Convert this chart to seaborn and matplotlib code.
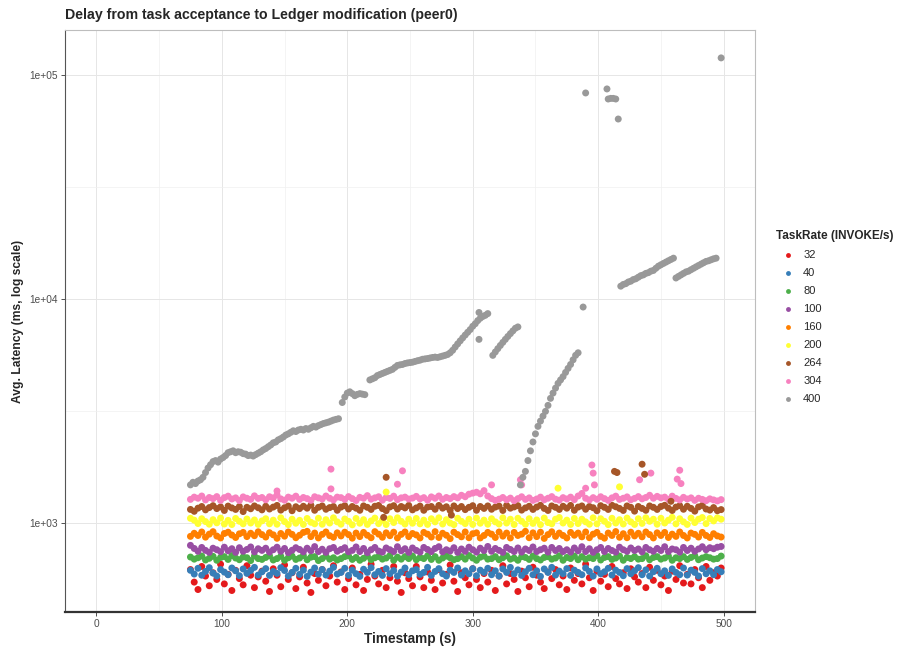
import numpy as np
import pandas as pd
import matplotlib
matplotlib.use('Agg')
import matplotlib.pyplot as plt
import seaborn as sns
from matplotlib.ticker import FixedLocator

# task rates and their ggplot Set1 colours
rates = ['32', '40', '80', '100', '160', '200', '264', '304', '400']
colors = ['#E41A1C', '#377EB8', '#4DAF4A', '#984EA3', '#FF7F00',
          '#FFFF33', '#A65628', '#F781BF', '#999999']

# flat bands, sampled every 3 s from t=75 (latency in ms)
band_start = 75
band_step = 3
lat_32 = [620, 545, 505, 640, 580, 525, 600, 560, 655, 535, 590, 500, 615, 565, 530, 645, 585, 515, 575, 610,
          550, 495, 625, 585, 520, 650, 560, 600, 510, 575, 635, 540, 490, 595, 555, 620, 525, 580, 645, 545,
          605, 505, 565, 630, 530, 590, 500, 560, 655, 580, 535, 615, 515, 570, 640, 550, 490, 600, 565, 525,
          640, 575, 515, 605, 555, 505, 620, 540, 590, 650, 550, 495, 600, 570, 530, 625, 560, 515, 595, 545,
          615, 500, 580, 645, 535, 595, 560, 495, 610, 570, 520, 635, 585, 545, 510, 605, 565, 620, 530, 580,
          505, 630, 555, 595, 535, 655, 570, 500, 610, 550, 590, 520, 640, 565, 535, 600, 510, 625, 575, 545,
          595, 515, 635, 555, 615, 530, 580, 500, 610, 560, 645, 540, 590, 535, 620, 570, 515, 640, 555, 600,
          580, 630]
lat_40 = [615, 592, 628, 585, 608, 632, 598, 580, 620, 604, 588, 630, 612, 582, 624, 596, 614, 634, 586, 606,
          626, 584, 608, 596, 632, 614, 580, 602, 628, 590, 616, 578, 604, 630, 592, 620, 586, 610, 634, 592,
          602, 628, 584, 616, 594, 578, 622, 602, 632, 588, 608, 584, 626, 594, 614, 580, 604, 630, 588, 612,
          620, 590, 602, 634, 584, 608, 626, 594, 580, 616, 602, 630, 586, 612, 594, 626, 582, 616, 602, 628,
          588, 612, 580, 624, 602, 634, 594, 618, 584, 606, 628, 588, 612, 578, 624, 602, 634, 586, 610, 594,
          626, 584, 616, 602, 588, 630, 608, 580, 624, 594, 606, 628, 586, 616, 602, 582, 626, 594, 612, 632,
          588, 618, 580, 606, 628, 594, 612, 584, 624, 602, 588, 630, 586, 616, 602, 580, 626, 594, 612, 588,
          620, 606]
lat_80 = [705, 690, 700, 712, 684, 696, 710, 682, 702, 708, 688, 716, 698, 686, 706, 700, 680, 712, 694, 688,
          702, 714, 684, 694, 710, 682, 700, 712, 688, 698, 716, 686, 704, 708, 680, 694, 712, 690, 700, 684,
          694, 708, 714, 688, 702, 682, 696, 712, 686, 700, 708, 690, 698, 716, 682, 704, 690, 708, 694, 712,
          686, 702, 694, 714, 688, 708, 682, 698, 712, 700, 686, 694, 708, 690, 716, 698, 682, 704, 712, 690,
          694, 708, 686, 700, 714, 690, 698, 682, 708, 702, 688, 712, 694, 684, 702, 708, 690, 698, 714, 682,
          702, 694, 712, 686, 708, 690, 700, 694, 716, 684, 702, 708, 688, 698, 712, 682, 702, 694, 708, 690,
          694, 714, 686, 702, 708, 690, 698, 712, 682, 700, 694, 708, 688, 702, 714, 686, 698, 708, 700, 690,
          694, 712]
lat_100 = [795, 770, 748, 778, 755, 740, 772, 760, 745, 780, 752, 768, 740, 776, 748, 762, 782, 744, 768, 755,
           772, 742, 760, 780, 748, 770, 738, 756, 776, 762, 744, 772, 752, 785, 746, 764, 740, 768, 778, 748,
           762, 776, 744, 755, 782, 746, 770, 738, 760, 778, 750, 742, 774, 760, 746, 784, 752, 768, 740, 774,
           755, 742, 778, 762, 746, 770, 784, 744, 760, 750, 776, 740, 766, 748, 780, 760, 742, 772, 754, 786,
           748, 770, 755, 740, 778, 762, 746, 774, 742, 766, 754, 782, 746, 760, 772, 742, 778, 754, 770, 746,
           760, 742, 774, 752, 784, 746, 768, 740, 760, 778, 746, 770, 754, 742, 780, 760, 748, 774, 754, 766,
           744, 778, 760, 748, 770, 754, 784, 746, 766, 760, 742, 778, 754, 772, 748, 766, 784, 760, 776, 768,
           780, 786]
lat_160 = [872, 900, 880, 912, 865, 892, 915, 875, 858, 898, 910, 884, 862, 895, 908, 870, 900, 878, 914, 888,
           866, 905, 886, 855, 898, 874, 912, 890, 860, 882, 908, 918, 870, 902, 858, 890, 912, 878, 864, 904,
           876, 910, 888, 856, 902, 870, 908, 882, 860, 915, 892, 864, 904, 878, 910, 858, 890, 912, 870, 898,
           885, 858, 908, 892, 866, 915, 862, 900, 882, 852, 910, 888, 868, 912, 860, 896, 904, 858, 880, 908,
           892, 862, 912, 874, 902, 858, 908, 880, 892, 918, 860, 904, 870, 910, 854, 888, 914, 872, 902, 880,
           858, 908, 882, 902, 868, 912, 860, 892, 908, 872, 856, 902, 880, 916, 864, 896, 860, 910, 876, 900,
           868, 912, 888, 858, 904, 880, 908, 862, 892, 872, 912, 880, 858, 902, 890, 866, 908, 880, 862, 896,
           876, 866]
lat_200 = [1050, 1030, 995, 1045, 1015, 988, 1035, 1002, 1052, 990, 1028, 985, 1048, 1018, 992, 1042, 1000, 1032, 986, 1022,
           1045, 992, 1030, 988, 1055, 1015, 984, 1040, 998, 1028, 986, 1048, 1008, 992, 1050, 988, 1035, 1000, 1055, 1012,
           988, 1042, 1018, 982, 1048, 998, 1035, 986, 1022, 1052, 994, 1030, 985, 1045, 1005, 1055, 1018, 990, 1040, 998,
           1048, 992, 1030, 986, 1045, 1012, 1055, 990, 1035, 1000, 984, 1050, 1018, 994, 1040, 986, 1052, 998, 1030, 988,
           1045, 1012, 990, 1055, 1000, 1040, 985, 1050, 1018, 988, 1045, 996, 1032, 984, 1052, 1005, 992, 1040, 1058, 1000,
           1030, 986, 1048, 995, 1040, 1012, 988, 1055, 992, 1045, 1018, 984, 1050, 1000, 1035, 990, 1052, 1012, 986, 1045,
           996, 1055, 1018, 1040, 988, 1050, 1000, 1030, 1060, 992, 1045, 1012, 986, 1052, 1005, 1040, 1058, 994, 1048, 1022,
           1055, 1040]
lat_264 = [1150, 1128, 1165, 1185, 1145, 1172, 1195, 1160, 1180, 1138, 1190, 1168, 1150, 1185, 1125, 1175, 1158, 1192, 1170, 1145,
           1188, 1155, 1178, 1198, 1142, 1170, 1190, 1135, 1182, 1160, 1188, 1165, 1200, 1140, 1175, 1192, 1152, 1172, 1185, 1140,
           1178, 1195, 1155, 1185, 1165, 1140, 1192, 1175, 1150, 1188, 1198, 1160, 1135, 1180, 1195, 1155, 1185, 1168, 1198, 1145,
           1168, 1190, 1140, 1178, 1185, 1152, 1198, 1165, 1182, 1138, 1192, 1160, 1185, 1148, 1175, 1195, 1140, 1185, 1162, 1192,
           1152, 1178, 1190, 1138, 1198, 1165, 1180, 1195, 1142, 1168, 1188, 1150, 1178, 1200, 1162, 1138, 1192, 1175, 1150, 1188,
           1165, 1198, 1140, 1178, 1192, 1152, 1185, 1170, 1135, 1195, 1175, 1150, 1200, 1182, 1162, 1138, 1192, 1175, 1130, 1185,
           1162, 1140, 1192, 1175, 1150, 1185, 1200, 1165, 1138, 1178, 1195, 1152, 1188, 1162, 1130, 1180, 1198, 1155, 1142, 1172,
           1135, 1148]
lat_304 = [1275, 1305, 1290, 1320, 1268, 1300, 1285, 1312, 1262, 1298, 1318, 1280, 1295, 1260, 1308, 1290, 1275, 1322, 1288, 1300,
           1270, 1310, 1295, 1335, 1282, 1265, 1305, 1290, 1318, 1275, 1300, 1285, 1262, 1310, 1295, 1280, 1320, 1290, 1268, 1305,
           1298, 1275, 1312, 1285, 1260, 1302, 1290, 1325, 1278, 1295, 1310, 1265, 1300, 1288, 1318, 1272, 1295, 1305, 1280, 1292,
           1315, 1282, 1298, 1265, 1308, 1290, 1320, 1276, 1300, 1285, 1312, 1295, 1330, 1310, 1345, 1360, 1372, 1350, 1395, 1320,
           1285, 1262, 1278, 1300, 1270, 1292, 1258, 1285, 1310, 1275, 1295, 1262, 1280, 1305, 1270, 1290, 1312, 1278, 1265, 1298,
           1280, 1305, 1272, 1320, 1355, 1290, 1268, 1298, 1276, 1310, 1285, 1262, 1295, 1318, 1275, 1290, 1308, 1270, 1288, 1312,
           1282, 1300, 1330, 1290, 1315, 1295, 1305, 1275, 1318, 1288, 1268, 1302, 1280, 1295, 1262, 1290, 1275, 1258, 1282, 1268,
           1255, 1272]

# stray points above / below the bands
extra_rate = ['304'] * 17 + ['264'] * 8 + ['200'] * 3
extra_t = [144, 187, 187, 240, 244, 315, 338, 339, 390, 395, 396, 397, 433, 442, 463, 465, 466,
           229, 231, 283, 413, 415, 435, 437, 458,
           231, 368, 417]
extra_v = [1390, 1740, 1420, 1490, 1710, 1480, 1560, 1480, 1430, 1815, 1670, 1480, 1560, 1670, 1570, 1720, 1500,
           1060, 1600, 1085, 1700, 1680, 1830, 1650, 1250,
           1375, 1430, 1450]

# rate 400: latency keeps growing
t_400 = [75, 77, 79, 81, 83, 85, 87, 89, 91, 93, 95, 97, 99, 101, 103, 105, 107, 109, 111, 113,
         115, 117, 119, 121, 123, 125, 127, 129, 131, 133, 135, 137, 139, 141, 143, 145, 147, 149, 151, 153,
         155, 157, 159, 161, 163, 165, 167, 169, 171, 173, 175, 177, 179, 181, 183, 185, 187, 189, 191, 193,
         196, 198, 200, 202, 204, 206, 208, 210, 212, 214,
         218, 220, 222, 224, 226, 228, 230, 232, 234, 236, 238, 240, 242, 244, 246, 248, 250, 252, 254, 256,
         258, 260, 262, 264, 266, 268, 270, 272, 274, 276, 278, 280, 282, 284, 286, 288, 290, 292, 294, 296,
         298, 300, 302, 304, 306, 308, 310, 312, 305, 305,
         316, 318, 320, 322, 324, 326, 328, 330, 332, 334, 336,
         338, 340, 342, 344, 346, 348, 350, 352, 354, 356, 358, 360, 362, 364, 366, 368, 370, 372, 374, 376,
         378, 380, 382, 384, 388,
         390, 407, 408, 410, 412, 414, 416, 498,
         418, 420, 422, 424, 426, 428, 430, 432, 434, 436, 438, 440, 442, 444, 446, 448, 450, 452, 454, 456,
         458, 460,
         462, 464, 466, 468, 470, 472, 474, 476, 478, 480, 482, 484, 486, 488, 490, 492, 494]
lat_400 = [1480, 1520, 1500, 1540, 1560, 1600, 1680, 1760, 1820, 1880, 1900, 1870, 1930, 1960, 2000, 2060, 2080, 2100, 2060, 2080,
           2070, 2040, 2030, 2000, 2010, 1990, 2020, 2050, 2080, 2120, 2150, 2190, 2230, 2280, 2300, 2350, 2380, 2420, 2470, 2500,
           2540, 2580, 2560, 2600, 2620, 2600, 2640, 2620, 2660, 2700, 2680, 2720, 2750, 2780, 2800, 2820, 2850, 2880, 2900, 2920,
           3450, 3650, 3800, 3850, 3780, 3700, 3750, 3780, 3760, 3740,
           4350, 4400, 4450, 4550, 4600, 4650, 4700, 4750, 4800, 4850, 4950, 5050, 5080, 5100, 5150, 5180, 5200, 5220, 5260, 5300,
           5330, 5380, 5400, 5420, 5450, 5480, 5500, 5480, 5520, 5560, 5600, 5650, 5750, 5900, 6100, 6300, 6500, 6700, 6900, 7100,
           7300, 7550, 7750, 8000, 8200, 8350, 8450, 8600, 8700, 6600,
           5600, 5800, 6000, 6200, 6400, 6600, 6800, 7000, 7200, 7400, 7500,
           1480, 1600, 1700, 1900, 2100, 2300, 2500, 2700, 2850, 3000, 3150, 3350, 3600, 3800, 4000, 4200, 4350, 4500, 4700, 4900,
           5100, 5350, 5600, 5750, 9200,
           83000, 86500, 78000, 78500, 78500, 78000, 63500, 119000,
           11400, 11600, 11700, 11900, 12000, 12200, 12300, 12500, 12700, 12800, 13000, 13100, 13300, 13400, 13700, 14000, 14200, 14400, 14600, 14800,
           15000, 15200,
           12400, 12600, 12800, 13000, 13200, 13300, 13500, 13700, 13900, 14100, 14300, 14500, 14700, 14800, 14950, 15100, 15200]

bands = {'32': lat_32, '40': lat_40, '80': lat_80, '100': lat_100, '160': lat_160,
         '200': lat_200, '264': lat_264, '304': lat_304}

frames = []
for rate in rates[:-1]:
    vals = bands[rate]
    ts = band_start + band_step * np.arange(len(vals))
    frames.append(pd.DataFrame({'Timestamp': ts, 'Latency': vals, 'TaskRate': rate}))
frames.append(pd.DataFrame({'Timestamp': extra_t, 'Latency': extra_v, 'TaskRate': extra_rate}))
frames.append(pd.DataFrame({'Timestamp': t_400, 'Latency': lat_400, 'TaskRate': '400'}))
df = pd.concat(frames, ignore_index=True)

sns.set_theme(style='white')
plt.rcParams['font.family'] = ['Liberation Sans', 'DejaVu Sans']

fig = plt.figure(figsize=(9.04, 6.46), dpi=100)
ax = fig.add_axes([65 / 904, 34 / 646, 690 / 904, 582 / 646])

sns.scatterplot(data=df, x='Timestamp', y='Latency', hue='TaskRate', hue_order=rates,
                palette=dict(zip(rates, colors)), s=25, linewidth=0, alpha=1, ax=ax)

ax.set_yscale('log')
ax.set_xlim(-25, 525)
ax.set_ylim(10 ** 2.603, 10 ** 5.2)

ax.xaxis.set_major_locator(FixedLocator([0, 100, 200, 300, 400, 500]))
ax.xaxis.set_minor_locator(FixedLocator([50, 150, 250, 350, 450]))
ax.yaxis.set_major_locator(FixedLocator([1e3, 1e4, 1e5]))
ax.yaxis.set_minor_locator(FixedLocator([10 ** 3.5, 10 ** 4.5]))
ax.set_yticklabels(['1e+03', '1e+04', '1e+05'])
ax.yaxis.set_minor_formatter(plt.NullFormatter())

ax.grid(which='major', color='#E6E6E6', linewidth=0.7)
ax.grid(which='minor', color='#F0F0F0', linewidth=0.5)
ax.set_axisbelow(True)
ax.tick_params(which='major', axis='both', length=3, width=0.6, color='#333333',
               labelsize=7.3, labelcolor='#4D4D4D', pad=2, left=True, bottom=True)
ax.tick_params(which='minor', length=0)

for side in ['top', 'right']:
    ax.spines[side].set_color('#BDBDBD')
    ax.spines[side].set_linewidth(0.8)
ax.spines['left'].set_color('#555555')
ax.spines['left'].set_linewidth(0.8)
ax.spines['bottom'].set_color('#333333')
ax.spines['bottom'].set_linewidth(1.6)

ax.set_xlabel('Timestamp (s)', fontsize=9.8, fontweight='bold', labelpad=2)
ax.set_ylabel('Avg. Latency (ms, log scale)', fontsize=8.7, fontweight='bold', labelpad=4)
ax.set_title('Delay from task acceptance to Ledger modification (peer0)',
             fontsize=10.2, fontweight='bold', loc='left', pad=8)

sns.move_legend(ax, 'upper left', bbox_to_anchor=(772 / 904, 1 - 226 / 646),
                bbox_transform=fig.transFigure, frameon=False,
                title='TaskRate (INVOKE/s)', fontsize=8, title_fontsize=8.5,
                labelspacing=0.72, handletextpad=0.4, markerscale=0.7,
                borderaxespad=0, alignment='left')
leg = ax.get_legend()
leg.get_title().set_fontweight('bold')

fig.savefig('out.png', dpi=100)
